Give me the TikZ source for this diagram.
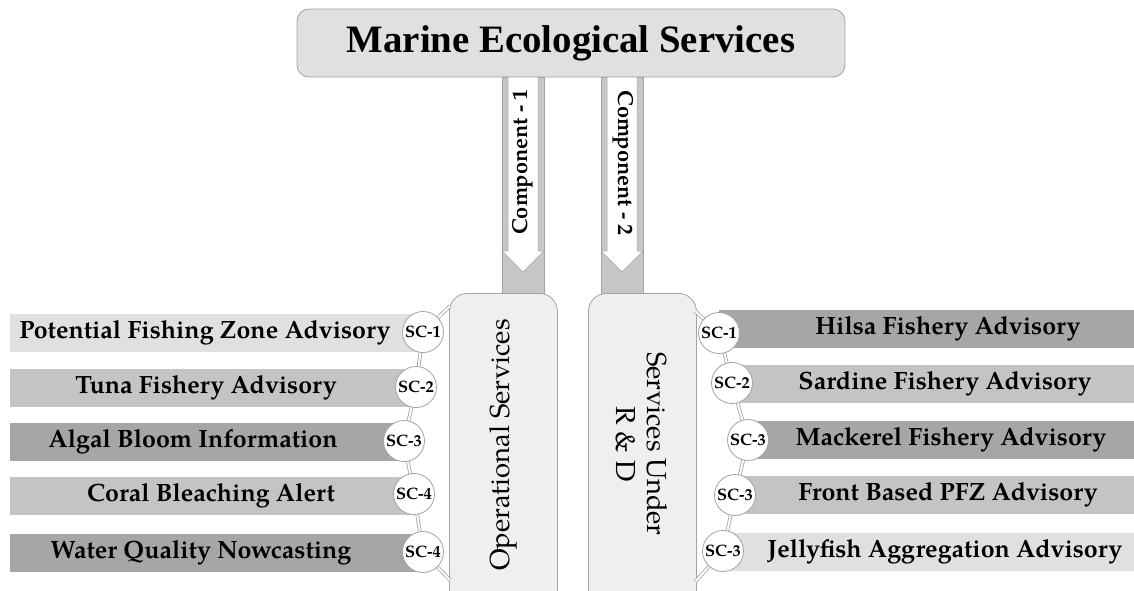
\documentclass[tikz,border=0pt]{standalone}
\usepackage{fontspec}
\setmainfont{TeX Gyre Pagella}
\newfontfamily\titlefont{Liberation Serif}
\definecolor{rim}{HTML}{A3A3A3}
\definecolor{strip}{HTML}{C6C6C6}
\definecolor{panel}{HTML}{EFEFEF}
\definecolor{headfill}{HTML}{E0E0E0}
\definecolor{barA}{HTML}{E0E0E0}
\definecolor{barB}{HTML}{C4C4C4}
\definecolor{barC}{HTML}{A6A6A6}
\tikzset{
  headbox/.style={draw=rim, fill=headfill, rounded corners=12pt, line width=0.8pt, inner sep=0pt},
  panelbox/.style={draw=rim, fill=panel, rounded corners=18pt, line width=0.8pt, inner sep=0pt, anchor=north west},
  barbox/.style={draw=none, inner sep=0pt, anchor=west, minimum height=38pt},
  bartext/.style={font=\fontsize{25}{25}\selectfont\bfseries, inner sep=0pt},
  sc/.style={circle, draw=rim, fill=white, line width=0.8pt, minimum size=41pt, inner sep=0pt,
             font=\fontsize{16.5}{16.5}\selectfont\bfseries},
  link/.style={draw=rim, line width=0.8pt, double=white, double distance=2pt},
  comptext/.style={font=\fontsize{21.7}{21.7}\selectfont\bfseries, inner sep=0pt},
  paneltext/.style={font=\fontsize{27.5}{31}\selectfont, inner sep=0pt, align=center}
}
\begin{document}
\begin{tikzpicture}[x=1pt,y=-1pt]
\useasboundingbox (0,0) rectangle (1134,590);
\clip (0,0) rectangle (1134,590);

% heading
\node[headbox, minimum width=548pt, minimum height=68pt] (head) at (571,43)
  {\titlefont\fontsize{38.8}{38.8}\selectfont\bfseries Marine Ecological Services};

% two component arrows
\foreach \cx in {523, 622}{
  \fill[strip, draw=rim, line width=0.5pt] (\cx-21,77) rectangle (\cx+21,293);
  \filldraw[fill=white, draw=rim, line width=0.5pt]
    (\cx-15,77) -- (\cx+15,77) -- (\cx+15,251) -- (\cx+21,251) -- (\cx,272)
    -- (\cx-21,251) -- (\cx-15,251) -- cycle;
}
\node[comptext, rotate=90] (c1) at (523,162) {Component - 1};
\node[comptext, rotate=-90] (c2) at (623,163) {Component - 2};

% service panels
\node[panelbox, minimum width=108pt, minimum height=320pt] (ops) at (449,293) {};
\node[panelbox, minimum width=108pt, minimum height=320pt] (rnd) at (588,293) {};
\node[paneltext, rotate=90] (opsl) at (503,445) {Operational Services};
\node[paneltext, rotate=-90] (rndl) at (642,444) {Services Under\\R \& D};

% left bars
\node[barbox, fill=barA, minimum width=413pt] (lb1) at (10,333) {};
\node[barbox, fill=barB, minimum width=406pt] (lb2) at (10,388) {};
\node[barbox, fill=barC, minimum width=394pt] (lb3) at (10,442) {};
\node[barbox, fill=barB, minimum width=404pt] (lb4) at (10,496) {};
\node[barbox, fill=barC, minimum width=413pt] (lb5) at (10,553) {};
\node[bartext] (lt1) at (205,333) {Potential Fishing Zone Advisory};
\node[bartext] (lt2) at (206,388) {Tuna Fishery Advisory};
\node[bartext] (lt3) at (193,442) {Algal Bloom Information};
\node[bartext] (lt4) at (211,496) {Coral Bleaching Alert};
\node[bartext] (lt5) at (201,553) {Water Quality Nowcasting};

% right bars
\node[barbox, fill=barC, minimum width=415pt] (rb1) at (719,329) {};
\node[barbox, fill=barB, minimum width=402pt] (rb2) at (732,384) {};
\node[barbox, fill=barC, minimum width=386pt] (rb3) at (748,440) {};
\node[barbox, fill=barB, minimum width=399pt] (rb4) at (735,495) {};
\node[barbox, fill=barA, minimum width=411pt] (rb5) at (723,552) {};
\node[bartext] (rt1) at (948,329) {Hilsa Fishery Advisory};
\node[bartext] (rt2) at (945,384) {Sardine Fishery Advisory};
\node[bartext] (rt3) at (951,440) {Mackerel Fishery Advisory};
\node[bartext] (rt4) at (948,495) {Front Based PFZ Advisory};
\node[bartext] (rt5) at (945,552) {Jellyfish Aggregation Advisory};

% chain anchors on the panels
\coordinate (lt) at (450,306);
\coordinate (lb) at (450,580);
\coordinate (rt) at (695,311);
\coordinate (rb) at (695,582);

% chain links, drawn under the circles
\draw[link] (lt) -- (423,332) -- (416,387) -- (404,441) -- (414,494) -- (423,552) -- (lb);
\draw[link] (rt) -- (719,333) -- (732,383) -- (748,440) -- (735,495) -- (723,551) -- (rb);

% sub-component circles
\node[sc] (l1) at (423,332) {SC-1};
\node[sc] (l2) at (416,387) {SC-2};
\node[sc] (l3) at (404,441) {SC-3};
\node[sc] (l4) at (414,494) {SC-4};
\node[sc] (l5) at (423,552) {SC-4};
\node[sc] (r1) at (719,333) {SC-1};
\node[sc] (r2) at (732,383) {SC-2};
\node[sc] (r3) at (748,440) {SC-3};
\node[sc] (r4) at (735,495) {SC-3};
\node[sc] (r5) at (723,551) {SC-3};
\end{tikzpicture}
\end{document}
